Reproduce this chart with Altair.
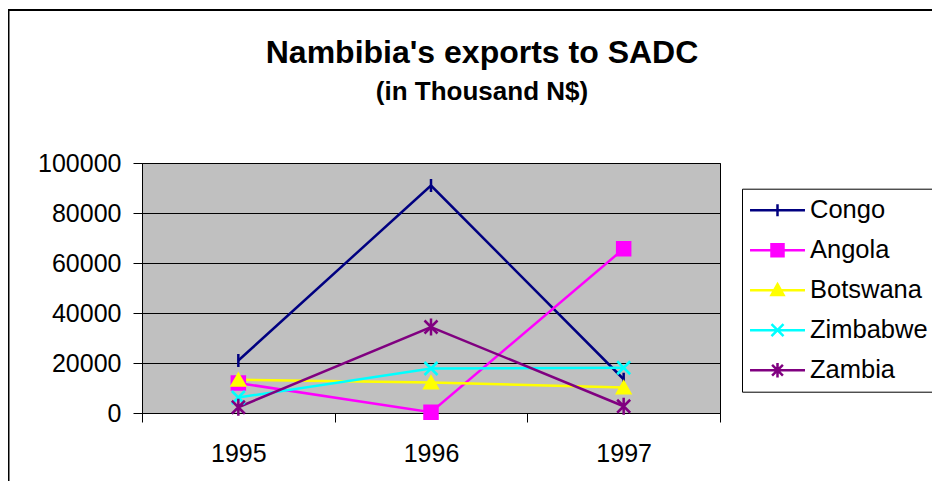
import altair as alt
import pandas as pd

# ---- data ----
countries = ["Congo", "Angola", "Botswana", "Zimbabwe", "Zambia"]
years = [1995, 1996, 1997]
congo = [21000, 91000, 13500]
angola = [12000, 300, 65700]
botswana = [13300, 12200, 10200]
zimbabwe = [6200, 17800, 18100]
zambia = [2300, 34400, 2700]
y_ticks = [0, 20000, 40000, 60000, 80000, 100000]
x_ticks = [1994.5, 1995, 1995.5, 1996, 1996.5, 1997, 1997.5]

# ---- styles ----
colors = ["#000080", "#FF00FF", "#FFFF00", "#00FFFF", "#800080"]
marker_shapes = {
    "Congo": "M0,-1L0,1",
    "Angola": "square",
    "Botswana": "triangle-up",
    "Zimbabwe": "M-1,-1L1,1M-1,1L1,-1",
    "Zambia": "M-1,-1L1,1M-1,1L1,-1M0,-1.3L0,1.3",
}
marker_filled = {"Congo": False, "Angola": True, "Botswana": True,
                 "Zimbabwe": False, "Zambia": False}
LINE = "M-2.29,0L2.29,0"
legend_shapes = [
    LINE + "M0,-0.5L0,0.5",
    LINE + "M-0.5,-0.5L0.5,-0.5L0.5,0.5L-0.5,0.5Z",
    LINE + "M0,-0.5L0.5,0.4L-0.5,0.4Z",
    LINE + "M-0.5,-0.5L0.5,0.5M-0.5,0.5L0.5,-0.5",
    LINE + "M-0.45,-0.45L0.45,0.45M-0.45,0.45L0.45,-0.45M0,-0.6L0,0.6",
]

series = [congo, angola, botswana, zimbabwe, zambia]
rows = []
for c, vals in zip(countries, series):
    for yr, v in zip(years, vals):
        rows.append({"Country": c, "Year": yr, "Value": v})
df = pd.DataFrame(rows)

FONT = "Liberation Sans"

color_scale = alt.Scale(domain=countries, range=colors)
shape_scale = alt.Scale(domain=countries, range=legend_shapes)
y_scale = alt.Scale(domain=[0, 100000], nice=False)

x_enc = alt.X(
    "Year:Q",
    scale=alt.Scale(domain=[1994.5, 1997.5], nice=False, zero=False),
    axis=alt.Axis(
        values=x_ticks, title=None,
        labelExpr="(datum.value % 1 == 0) ? toString(datum.value) : ''",
        tickOpacity={"condition": {"test": "datum.value % 1 == 0", "value": 0}, "value": 1},
        grid=False, tickSize=9, tickColor="black", tickWidth=1,
        domainColor="black", domainWidth=1,
        labelFont=FONT, labelFontSize=25, labelColor="black",
        labelPadding=19, labelFlush=False, labelOverlap=False,
    ),
)
y_axis = alt.Axis(
    values=y_ticks, title=None, format="d",
    grid=True, gridColor="black", gridWidth=1,
    tickSize=9, tickColor="black", domainColor="black",
    labelFont=FONT, labelFontSize=25, labelColor="black",
    labelPadding=12,
)
y_enc = alt.Y("Value:Q", scale=y_scale, axis=y_axis)

base = alt.Chart(df)

lines = base.mark_line(strokeWidth=2.5).encode(
    x=x_enc, y=y_enc,
    stroke=alt.Stroke("Country:N", scale=color_scale, legend=None),
    detail="Country:N",
)

marker_layers = []
for c in countries:
    enc = dict(
        x=x_enc, y=y_enc,
        stroke=alt.Stroke("Country:N", scale=color_scale, legend=None),
    )
    if marker_filled[c]:
        enc["fill"] = alt.Fill("Country:N", scale=color_scale, legend=None)
    layer = base.transform_filter(alt.datum.Country == c).mark_point(
        shape=marker_shapes[c], size=169, strokeWidth=2.5, opacity=1,
        filled=marker_filled[c],
    ).encode(**enc)
    marker_layers.append(layer)

leg = alt.Legend(
    title=None, orient="none", legendX=600, legendY=25.7,
    labelFont=FONT, labelFontSize=25.5, labelColor="black", labelLimit=400,
    symbolSize=576, symbolStrokeWidth=2.5, symbolOffset=14, labelOffset=19,
    rowPadding=13, padding=8, strokeColor="black", fillColor="white",
)
# legend-only layer: its points sit below the axis and are clipped away
legend_layer = base.transform_calculate(Hidden="-50000").mark_point(
    filled=True, opacity=1, size=576, strokeWidth=2.5, clip=True,
).encode(
    x=x_enc,
    y=alt.Y("Hidden:Q", scale=y_scale, axis=y_axis),
    fill=alt.Fill("Country:N", scale=color_scale, legend=leg),
    stroke=alt.Stroke("Country:N", scale=color_scale, legend=leg),
    shape=alt.Shape("Country:N", scale=shape_scale, legend=leg),
)

border = alt.Chart(alt.Data(values=[{}])).mark_rect(
    fillOpacity=0, stroke="black", strokeWidth=2,
).encode(
    x=alt.value(-133.5), x2=alt.value(900),
    y=alt.value(-153), y2=alt.value(400),
)

chart = alt.layer(legend_layer, border, lines, *marker_layers).properties(
    width=578, height=250,
    padding={"left": 134, "top": 155, "right": 212, "bottom": 68},
    autosize=alt.AutoSizeParams(type="none"),
    background="white",
    title=alt.TitleParams(
        text="Nambibia's exports to SADC", subtitle="(in Thousand N$)",
        font=FONT, fontSize=32, fontWeight="bold", color="black",
        subtitleFont=FONT, subtitleFontSize=26, subtitleFontWeight="bold",
        subtitleColor="black", anchor="middle", frame="group",
        dx=51, offset=-97, subtitlePadding=9,
    ),
).configure_view(
    fill="#C0C0C0", stroke="black", strokeWidth=1,
)

chart.save("out.html", embed_options={"renderer": "svg", "actions": False})
